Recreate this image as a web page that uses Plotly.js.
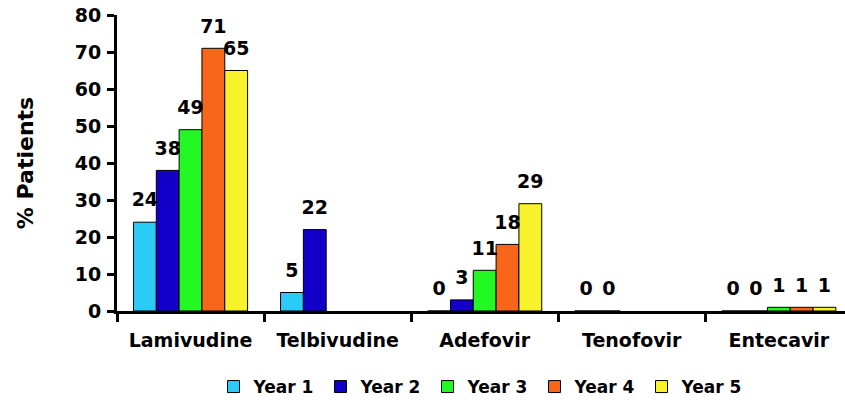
<!DOCTYPE html>
<html>
<head>
<meta charset="utf-8">
<script src="https://cdn.plot.ly/plotly-3.0.1.min.js"></script>
<style>html,body{margin:0;padding:0;background:#fff;}#chart{width:845px;height:405px;}</style>
</head>
<body>
<div id="chart"></div>
<script>
const categories = ["Lamivudine", "Telbivudine", "Adefovir", "Tenofovir", "Entecavir"];
const seriesNames = ["Year 1", "Year 2", "Year 3", "Year 4", "Year 5"];
const year1 = [24, 5, 0, 0, 0];
const year2 = [38, 22, 3, 0, 0];
const year3 = [49, null, 11, null, 1];
const year4 = [71, null, 18, null, 1];
const year5 = [65, null, 29, null, 1];
const colors = ["#2BCBF8", "#1200C8", "#22F822", "#F8661C", "#F8F22A"];
const yTicks = [0, 10, 20, 30, 40, 50, 60, 70, 80];

const FONT = "DejaVu Sans, Arial, sans-serif";
const series = [year1, year2, year3, year4, year5];
const bars = series.map((vals, i) => ({
  type: "bar",
  name: seriesNames[i],
  x: categories,
  y: vals,
  offsetgroup: String(i),
  marker: {color: colors[i], line: {color: "#000", width: 1}},
  hoverinfo: "none"
}));
const labels = series.map((vals, i) => ({
  type: "scatter",
  mode: "markers+text",
  x: categories,
  y: vals,
  offsetgroup: String(i),
  marker: {size: 16, opacity: 0},
  text: vals.map(v => v === null ? "" : String(v)),
  textposition: "top center",
  textfont: {family: FONT, size: 19, color: "#000", weight: "bold"},
  cliponaxis: false,
  showlegend: false,
  hoverinfo: "none"
}));

const layout = {
  width: 845, height: 405,
  margin: {l: 117, r: 0, t: 15, b: 94},
  paper_bgcolor: "#fff", plot_bgcolor: "#fff",
  barmode: "group",
  bargap: 0.224,
  bargroupgap: 0,
  scattermode: "group",
  scattergap: 0.224,
  font: {family: FONT, color: "#000", weight: "bold"},
  xaxis: {
    range: [-0.5, 4.45],
    showline: true, linecolor: "#000", linewidth: 3,
    ticks: "outside", tickson: "boundaries", ticklen: 8, tickwidth: 3, tickcolor: "#000",
    tickfont: {family: FONT, size: 19, color: "#000", weight: "bold"},
    ticklabelstandoff: 10,
    showgrid: false, zeroline: false, fixedrange: true
  },
  yaxis: {
    range: [0, 80],
    tickvals: yTicks,
    showline: true, linecolor: "#000", linewidth: 3,
    ticks: "outside", ticklen: 7, tickwidth: 3, tickcolor: "#000",
    tickfont: {family: FONT, size: 19, color: "#000", weight: "bold"},
    ticklabelstandoff: 2,
    title: {text: "% Patients", font: {family: FONT, size: 22, color: "#000", weight: "bold"}, standoff: 36},
    showgrid: false, zeroline: false, fixedrange: true
  },
  legend: {
    orientation: "h",
    x: 0.5, xanchor: "center",
    y: -0.257, yanchor: "middle",
    font: {family: FONT, size: 17, color: "#000", weight: "bold"},
    entrywidth: 62, entrywidthmode: "pixels",
    itemwidth: 30,
    bgcolor: "rgba(0,0,0,0)"
  },
  showlegend: true
};

Plotly.newPlot("chart", bars.concat(labels), layout, {displayModeBar: false, staticPlot: true});
</script>
</body>
</html>
